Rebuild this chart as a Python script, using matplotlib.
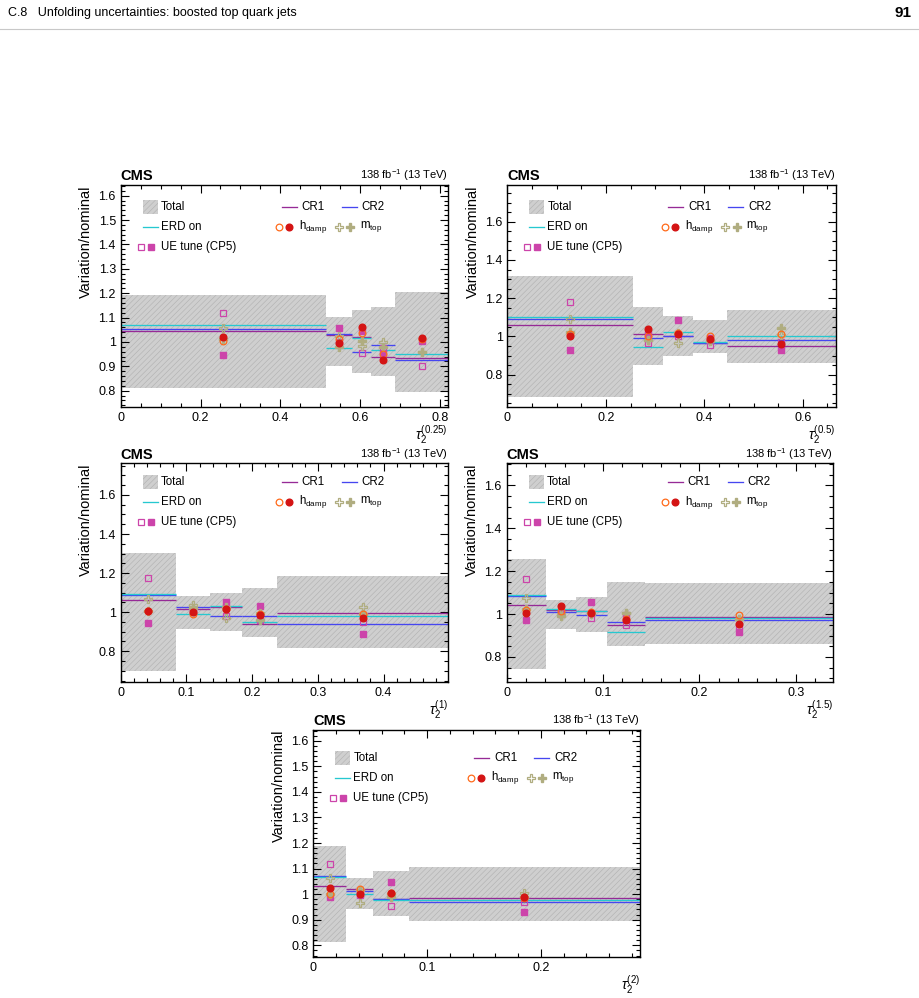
import matplotlib
matplotlib.use("Agg")
import matplotlib.pyplot as plt
import numpy as np
from matplotlib.ticker import MultipleLocator, AutoMinorLocator, FuncFormatter
from matplotlib.lines import Line2D
from matplotlib.patches import Rectangle

plt.rcParams["font.family"] = ["Liberation Sans", "DejaVu Sans"]
plt.rcParams["mathtext.fontset"] = "custom"
plt.rcParams["mathtext.rm"] = "Liberation Sans"
plt.rcParams["mathtext.it"] = "Liberation Sans:italic"
plt.rcParams["hatch.linewidth"] = 0.4

# --- tau_2^(0.25) ---
edges1 = [0, 0.515, 0.58, 0.628, 0.688, 0.82]
tot_up1 = [1.192, 1.104, 1.131, 1.142, 1.206]
tot_dn1 = [0.810, 0.901, 0.874, 0.862, 0.796]
cr1_1 = [1.045, 1.027, 1.021, 0.937, 0.933]
cr2_1 = [1.053, 1.033, 0.960, 0.989, 0.925]
erd_1 = [1.068, 0.974, 1.017, 0.967, 0.952]
hd_up1 = [1.005, 1.011, 1.035, 0.950, 1.010]
hd_dn1 = [1.022, 0.994, 1.062, 0.926, 1.017]
mt_up1 = [1.058, 1.026, 0.985, 0.998, 0.957]
mt_dn1 = [1.010, 0.980, 1.005, 0.978, 0.957]
ue_up1 = [1.117, 1.000, 0.953, 0.975, 0.903]
ue_dn1 = [0.946, 1.058, 1.046, 0.953, 1.005]

# --- tau_2^(0.5) ---
edges2 = [0, 0.2545, 0.3165, 0.377, 0.4465, 0.667]
tot_up2 = [1.316, 1.154, 1.107, 1.086, 1.140]
tot_dn2 = [0.685, 0.851, 0.898, 0.915, 0.860]
cr1_2 = [1.058, 1.014, 1.000, 0.965, 0.952]
cr2_2 = [1.091, 0.993, 1.002, 0.968, 0.981]
erd_2 = [1.100, 0.943, 1.022, 0.972, 1.000]
hd_up2 = [1.013, 1.000, 1.018, 1.000, 1.011]
hd_dn2 = [1.002, 1.037, 1.015, 0.985, 0.959]
mt_up2 = [1.090, 0.981, 0.967, 0.975, 1.005]
mt_dn2 = [1.025, 0.980, 1.016, 0.975, 1.045]
ue_up2 = [1.178, 0.967, 1.000, 0.955, 0.970]
ue_dn2 = [0.929, 1.012, 1.086, 0.990, 0.929]

# --- tau_2^(1) ---
edges3 = [0, 0.0845, 0.136, 0.185, 0.238, 0.498]
tot_up3 = [1.302, 1.083, 1.097, 1.124, 1.185]
tot_dn3 = [0.698, 0.914, 0.904, 0.875, 0.815]
cr1_3 = [1.061, 1.015, 1.028, 0.940, 0.995]
cr2_3 = [1.090, 1.028, 0.982, 0.982, 0.938]
erd_3 = [1.093, 0.990, 1.033, 0.949, 0.981]
hd_up3 = [1.008, 0.991, 1.015, 0.990, 0.990]
hd_dn3 = [1.008, 1.000, 1.015, 0.985, 0.972]
mt_up3 = [1.068, 1.037, 0.970, 0.995, 1.025]
mt_dn3 = [1.005, 1.020, 1.025, 0.960, 0.990]
ue_up3 = [1.175, 1.010, 0.982, 0.960, 0.949]
ue_dn3 = [0.946, 1.005, 1.052, 1.033, 0.889]

# --- tau_2^(1.5) ---
edges4 = [0, 0.0408, 0.072, 0.104, 0.144, 0.339]
tot_up4 = [1.258, 1.065, 1.078, 1.148, 1.143]
tot_dn4 = [0.743, 0.930, 0.918, 0.853, 0.859]
cr1_4 = [1.042, 1.018, 1.015, 0.949, 0.987]
cr2_4 = [1.085, 1.011, 0.994, 0.961, 0.972]
erd_4 = [1.089, 1.022, 1.016, 0.918, 0.983]
hd_up4 = [1.020, 1.015, 1.010, 0.975, 0.995]
hd_dn4 = [1.003, 1.039, 1.005, 0.972, 0.953]
mt_up4 = [1.073, 1.000, 1.005, 1.003, 0.975]
mt_dn4 = [1.022, 0.992, 1.000, 1.003, 0.975]
ue_up4 = [1.163, 1.003, 0.980, 0.947, 0.944]
ue_dn4 = [0.972, 1.000, 1.056, 0.995, 0.915]

# --- tau_2^(2) ---
edges5 = [0, 0.0287, 0.0527, 0.084, 0.287]
tot_up5 = [1.190, 1.062, 1.091, 1.108]
tot_dn5 = [0.814, 0.941, 0.915, 0.896]
cr1_5 = [1.031, 1.019, 0.982, 0.984]
cr2_5 = [1.072, 1.012, 0.980, 0.968]
erd_5 = [1.066, 1.000, 0.978, 0.978]
hd_up5 = [1.000, 1.020, 1.003, 0.985]
hd_dn5 = [1.023, 1.000, 1.003, 0.988]
mt_up5 = [1.065, 0.967, 1.000, 1.006]
mt_dn5 = [1.000, 1.018, 0.990, 0.990]
ue_up5 = [1.118, 0.995, 0.953, 0.968]
ue_dn5 = [0.990, 1.000, 1.049, 0.932]

C_CR1 = "#962a96"
C_CR2 = "#4646f0"
C_ERD = "#26c8d0"
C_HUP = "#ff6a1a"
C_HDN = "#d41414"
C_MT = "#b0ad80"
C_UE = "#cc44aa"

FW, FH = 920, 998
MS_SQ, MS_O, MS_P = 4.3, 4.8, 5.8


def pos(l, r, t, b):
    return [l / FW, 1 - b / FH, (r - l) / FW, (b - t) / FH]


def fmt(v, _):
    return "%g" % round(v, 3)


def panel(ax, edges, up, dn, cr1, cr2, erd, hu, hd, mu, md, uu, ud,
          ylim, ymaj, xmaj, xlabel, wpx, hpx, leg_top):
    edges = np.array(edges)
    mid = 0.5 * (edges[:-1] + edges[1:])
    ax.stairs(up, edges, baseline=dn, fill=True, facecolor="#cfcfcf",
              edgecolor="#b0b0b0", hatch="//////", linewidth=0, zorder=1)
    ax.hlines(cr1, edges[:-1], edges[1:], color=C_CR1, lw=0.95, zorder=2)
    ax.hlines(cr2, edges[:-1], edges[1:], color=C_CR2, lw=0.95, zorder=2)
    ax.hlines(erd, edges[:-1], edges[1:], color=C_ERD, lw=0.95, zorder=2)
    ax.plot(mid, uu, "s", ms=MS_SQ, mfc="none", mec=C_UE, mew=0.9, zorder=3)
    ax.plot(mid, ud, "s", ms=MS_SQ, color=C_UE, zorder=3)
    ax.plot(mid, mu, "P", ms=MS_P, mfc="none", mec=C_MT, mew=0.9, zorder=3)
    ax.plot(mid, md, "P", ms=MS_P, color=C_MT, zorder=3)
    ax.plot(mid, hu, "o", ms=MS_O, mfc="none", mec=C_HUP, mew=0.9, zorder=4)
    ax.plot(mid, hd, "o", ms=MS_O, color=C_HDN, zorder=4)

    ax.set_xlim(edges[0], edges[-1])
    ax.set_ylim(*ylim)
    ax.xaxis.set_major_locator(MultipleLocator(xmaj))
    ax.xaxis.set_minor_locator(AutoMinorLocator(4 if xmaj == 0.2 else 5))
    ax.yaxis.set_major_locator(MultipleLocator(ymaj))
    ax.yaxis.set_minor_locator(AutoMinorLocator(5 if ymaj == 0.1 else 4))
    ax.xaxis.set_major_formatter(FuncFormatter(fmt))
    ax.yaxis.set_major_formatter(FuncFormatter(fmt))
    ax.tick_params(which="both", direction="in", top=True, right=True,
                   labelsize=9, width=0.8)
    ax.tick_params(which="major", length=6)
    ax.tick_params(which="minor", length=3)
    for s in ax.spines.values():
        s.set_linewidth(1.0)
    ax.set_ylabel("Variation/nominal", loc="top", fontsize=10.5)
    ax.set_xlabel(xlabel, loc="right", fontsize=10, labelpad=0)
    ax.text(0, 1.008, "CMS", transform=ax.transAxes, fontsize=10.5,
            fontweight="bold", ha="left", va="bottom")
    ax.text(1, 1.008, r"138 fb$^{-1}$ (13 TeV)", transform=ax.transAxes,
            fontsize=8, ha="right", va="bottom")

    # legend, drawn by hand in axes coordinates
    def fx(p):
        return p / wpx

    def fy(i):
        return 1 - (leg_top + 20 * i) / hpx

    kw = dict(transform=ax.transAxes, fontsize=8.3, va="center", ha="left")
    ax.add_patch(Rectangle((fx(22), fy(0) - 7 / hpx), fx(15), 14 / hpx,
                           transform=ax.transAxes, facecolor="#cfcfcf",
                           edgecolor="#b0b0b0", hatch="//////", lw=0, zorder=5))
    ax.text(fx(40), fy(0), "Total", **kw)
    for x0, c, lab in [(161, C_CR1, "CR1"), (221, C_CR2, "CR2")]:
        ax.add_line(Line2D([fx(x0), fx(x0 + 15)], [fy(0), fy(0)], color=c,
                           lw=0.95, transform=ax.transAxes))
        ax.text(fx(x0 + 20), fy(0), lab, **kw)
    ax.add_line(Line2D([fx(22), fx(37)], [fy(1), fy(1)], color=C_ERD, lw=0.95,
                       transform=ax.transAxes))
    ax.text(fx(40), fy(1), "ERD on", **kw)
    ax.add_line(Line2D([fx(158)], [fy(1)], marker="o", ms=MS_O, mfc="none",
                       mec=C_HUP, mew=0.9, ls="none", transform=ax.transAxes))
    ax.add_line(Line2D([fx(168)], [fy(1)], marker="o", ms=MS_O, color=C_HDN,
                       ls="none", transform=ax.transAxes))
    ax.text(fx(178), fy(1), r"h$_{\mathregular{damp}}$", **kw)
    ax.add_line(Line2D([fx(218)], [fy(1)], marker="P", ms=MS_P, mfc="none",
                       mec=C_MT, mew=0.9, ls="none", transform=ax.transAxes))
    ax.add_line(Line2D([fx(229)], [fy(1)], marker="P", ms=MS_P, color=C_MT,
                       ls="none", transform=ax.transAxes))
    ax.text(fx(239), fy(1), r"m$_{\mathregular{top}}$", **kw)
    ax.add_line(Line2D([fx(20)], [fy(2)], marker="s", ms=MS_SQ, mfc="none",
                       mec=C_UE, mew=0.9, ls="none", transform=ax.transAxes))
    ax.add_line(Line2D([fx(30)], [fy(2)], marker="s", ms=MS_SQ, color=C_UE,
                       ls="none", transform=ax.transAxes))
    ax.text(fx(40), fy(2), "UE tune (CP5)", **kw)


fig = plt.figure(figsize=(9.2, 9.98), dpi=100)

fig.text(8 / FW, 1 - 13 / FH, "C.8   Unfolding uncertainties: boosted top quark jets",
         fontsize=9, va="center", ha="left")
fig.text(912 / FW, 1 - 13 / FH, "91", fontsize=11, fontweight="bold",
         va="center", ha="right")
fig.add_artist(Line2D([0, 1], [1 - 28.5 / FH, 1 - 28.5 / FH], color="#c8c8c8",
                      lw=0.8, transform=fig.transFigure))

ax1 = fig.add_axes(pos(120.7, 448, 185, 407))
panel(ax1, edges1, tot_up1, tot_dn1, cr1_1, cr2_1, erd_1, hd_up1, hd_dn1,
      mt_up1, mt_dn1, ue_up1, ue_dn1, (0.733, 1.644), 0.1, 0.2,
      r"$\tau_2^{(0.25)}$", 327.3, 222, 21.7)

ax2 = fig.add_axes(pos(507.5, 835.7, 185, 407))
panel(ax2, edges2, tot_up2, tot_dn2, cr1_2, cr2_2, erd_2, hd_up2, hd_dn2,
      mt_up2, mt_dn2, ue_up2, ue_dn2, (0.631, 1.792), 0.2, 0.2,
      r"$\tau_2^{(0.5)}$", 328.2, 222, 21.7)

ax3 = fig.add_axes(pos(120.7, 448, 463.3, 682.3))
panel(ax3, edges3, tot_up3, tot_dn3, cr1_3, cr2_3, erd_3, hd_up3, hd_dn3,
      mt_up3, mt_dn3, ue_up3, ue_dn3, (0.641, 1.762), 0.2, 0.1,
      r"$\tau_2^{(1)}$", 327.3, 219, 18.5)

ax4 = fig.add_axes(pos(506.7, 833.3, 463.3, 682.3))
panel(ax4, edges4, tot_up4, tot_dn4, cr1_4, cr2_4, erd_4, hd_up4, hd_dn4,
      mt_up4, mt_dn4, ue_up4, ue_dn4, (0.682, 1.703), 0.2, 0.1,
      r"$\tau_2^{(1.5)}$", 326.6, 219, 19)

ax5 = fig.add_axes(pos(313.3, 640, 730, 957.3))
panel(ax5, edges5, tot_up5, tot_dn5, cr1_5, cr2_5, erd_5, hd_up5, hd_dn5,
      mt_up5, mt_dn5, ue_up5, ue_dn5, (0.753, 1.642), 0.1, 0.1,
      r"$\tau_2^{(2)}$", 326.7, 227.3, 27.7)

fig.savefig("out.png", dpi=100)
